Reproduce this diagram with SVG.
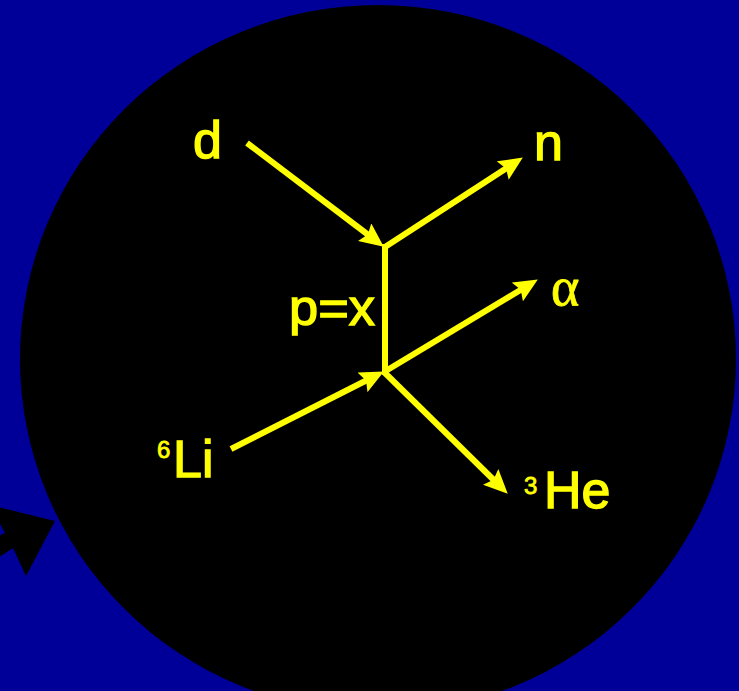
<svg xmlns="http://www.w3.org/2000/svg" width="739" height="691" viewBox="0 0 739 691">
  <style>
    .lbl { font-family: "Liberation Sans", Arial, sans-serif; fill: #FFFF00; stroke: #FFFF00; stroke-width: 1.3; }
    .sup { font-family: "Liberation Sans", Arial, sans-serif; fill: #FFFF00; stroke: #FFFF00; stroke-width: 0.8; font-size: 24px; }
    .ln { stroke: #FFFF00; stroke-width: 6; fill: none; }
  </style>
  <defs>
    <marker id="ah" markerUnits="userSpaceOnUse" viewBox="0 0 24 22" refX="13" refY="11" markerWidth="24" markerHeight="22" orient="auto">
      <path d="M0,0 L24,11 L0,22 L4,11 Z" fill="#FFFF00"/>
    </marker>
  </defs>
  <rect id="background" x="0" y="0" width="739" height="691" fill="#000099"/>
  <ellipse id="disk" cx="378" cy="359" rx="358" ry="354" fill="#000000"/>
  <g id="pointer">
    <polygon points="55,521 -10,505 5,533 -10,540 -10,563 13,548 26,576" fill="#000000"/>
  </g>
  <g id="connectors">
    <line class="ln" x1="247" y1="143" x2="375" y2="240" marker-end="url(#ah)"/>
    <line class="ln" x1="385" y1="247" x2="513.6" y2="163.5" marker-end="url(#ah)"/>
    <line class="ln" x1="385" y1="244" x2="385" y2="375"/>
    <line class="ln" x1="384" y1="372" x2="528.4" y2="285.2" marker-end="url(#ah)"/>
    <line class="ln" x1="231" y1="449" x2="374.1" y2="376.5" marker-end="url(#ah)"/>
    <line class="ln" x1="384" y1="372" x2="499.9" y2="486" marker-end="url(#ah)"/>
  </g>
  <g id="node-d"><text class="lbl" x="193" y="158" font-size="52">d</text></g>
  <g id="node-n"><text class="lbl" x="534" y="160" font-size="52">n</text></g>
  <g id="node-alpha"><text x="551" y="305" font-size="54" fill="#FFFF00" stroke="#FFFF00" stroke-width="0.8" font-family="'Liberation Serif', 'Times New Roman', serif">α</text></g>
  <g id="node-p"><text class="lbl" x="289" y="325" font-size="50" textLength="86" lengthAdjust="spacingAndGlyphs">p=x</text></g>
  <g id="node-li"><text class="sup" x="157" y="458">6</text><text class="lbl" x="173" y="477" font-size="52">Li</text></g>
  <g id="node-he"><text class="sup" x="524" y="494">3</text><text class="lbl" x="544" y="508" font-size="52">He</text></g>
</svg>
